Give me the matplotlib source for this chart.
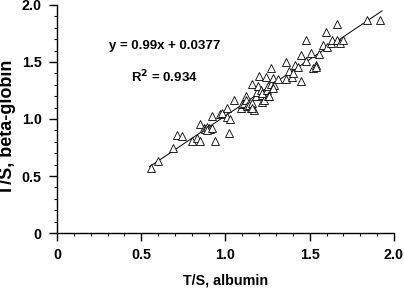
import matplotlib
matplotlib.use("Agg")
import matplotlib.pyplot as plt
import numpy as np
from matplotlib.ticker import MultipleLocator

plt.rcParams["font.family"] = ["Liberation Sans", "DejaVu Sans"]
plt.rcParams["font.weight"] = "bold"

# T/S ratios
ts_albumin = [0.56, 0.60, 0.69, 0.71, 0.74, 0.80, 0.83, 0.85, 0.85, 0.87,
              0.88, 0.89, 0.90, 0.91, 0.89, 0.92, 0.92, 0.94, 0.97, 0.98,
              1.01, 1.01, 1.02, 1.03, 1.05, 1.09, 1.10, 1.11, 1.12, 1.12,
              1.13, 1.14, 1.15, 1.16, 1.16, 1.17, 1.155, 1.18, 1.19, 1.195,
              1.20, 1.21, 1.215, 1.22, 1.23, 1.22, 1.24, 1.245, 1.25, 1.25,
              1.26, 1.27, 1.27, 1.285, 1.29, 1.285, 1.31, 1.36, 1.36, 1.38,
              1.395, 1.40, 1.41, 1.43, 1.45, 1.45, 1.48, 1.48, 1.505, 1.52,
              1.535, 1.54, 1.555, 1.58, 1.595, 1.605, 1.625, 1.63, 1.66, 1.665,
              1.68, 1.70, 1.84, 1.92]
ts_globin = [0.57, 0.63, 0.745, 0.86, 0.85, 0.81, 0.83, 0.81, 0.955, 0.92,
             0.91, 0.93, 0.92, 0.91, 0.90, 0.925, 1.03, 0.81, 1.045, 1.055,
             1.10, 1.02, 0.88, 1.00, 1.165, 1.10, 1.13, 1.14, 1.20, 1.17,
             1.11, 1.12, 1.095, 1.14, 1.31, 1.08, 1.10, 1.20, 1.24, 1.29,
             1.375, 1.25, 1.15, 1.21, 1.17, 1.23, 1.365, 1.255, 1.29, 1.20,
             1.20, 1.31, 1.45, 1.36, 1.30, 1.27, 1.35, 1.50, 1.35, 1.425,
             1.37, 1.40, 1.475, 1.46, 1.33, 1.56, 1.69, 1.51, 1.575, 1.445,
             1.475, 1.46, 1.57, 1.65, 1.765, 1.635, 1.665, 1.69, 1.835, 1.69,
             1.665, 1.69, 1.865, 1.865]

slope = 0.99
intercept = 0.0377
r_squared = 0.934
fit_range = [0.55, 1.93]

fig = plt.figure(figsize=(4.04, 2.92), dpi=100)
ax = fig.add_axes([0.141, 0.202, 0.834, 0.781])

fx = np.array(fit_range)
ax.plot(fx, slope * fx + intercept, color="black", linewidth=0.7)
ax.plot(ts_albumin, ts_globin, linestyle="none", marker="^", markersize=6,
        markerfacecolor="white", markeredgecolor="black", markeredgewidth=0.6)

ax.text(0.64, 1.64, f"y = {slope}x + {intercept}", ha="center", va="center",
        fontsize=9.5, fontweight="bold")
ax.text(0.64, 1.37, f"R$^\\mathbf{{2}}$ = {r_squared}", ha="center", va="center",
        fontsize=9.5, fontweight="bold")

ax.set_xlim(0, 2)
ax.set_ylim(0, 2)
ticks = [0, 0.5, 1.0, 1.5, 2.0]
labels = ["0", "0.5", "1.0", "1.5", "2.0"]
ax.set_xticks(ticks, labels)
ax.set_yticks(ticks, labels)
ax.xaxis.set_minor_locator(MultipleLocator(0.1))
ax.yaxis.set_minor_locator(MultipleLocator(0.1))
ax.tick_params(which="major", direction="out", length=6, width=1.0,
               labelsize=10.3, pad=5)
ax.tick_params(which="minor", direction="out", length=2, width=0.8)
for lab in ax.get_xticklabels() + ax.get_yticklabels():
    lab.set_fontweight("bold")

for side in ("top", "right"):
    ax.spines[side].set_visible(False)
for side in ("left", "bottom"):
    ax.spines[side].set_linewidth(1.0)

fig.text(0.558, 0.038, "T/S, albumin", ha="center", va="center",
         fontsize=10.3, fontweight="bold")
fig.text(0.019, 0.565, "T/S, beta-globin", ha="center", va="center",
         rotation=90, fontsize=13, fontweight="bold")

fig.savefig("out.png", dpi=100)
